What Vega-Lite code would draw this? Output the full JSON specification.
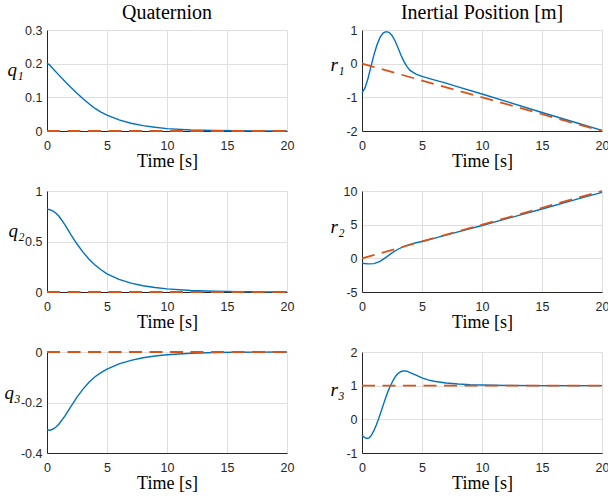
{
  "$schema": "https://vega.github.io/schema/vega-lite/v6.json",
  "padding": {"left": 3, "top": 3, "right": 5, "bottom": 5},
  "background": "white",
  "config": {
    "view": {"stroke": null},
    "style": {"guide-title": {"fontWeight": "normal"}, "group-title": {"fontWeight": "normal"}},
    "axis": {
      "domainColor": "#262626",
      "domainWidth": 1,
      "labelColor": "#262626",
      "labelFont": "Liberation Sans",
      "labelFontSize": 12.5,
      "labelOverlap": false,
      "labelBound": false,
      "tickCount": 12,
      "titleFont": "Liberation Serif",
      "titleFontSize": 18,
      "titleFontWeight": "normal",
      "titleColor": "#000000",
      "gridColor": "#dfdfdf",
      "gridWidth": 1,
      "ticks": false,
      "labelExpr": "replace(format(datum.value, '~g'), '\u2212', '-')"
    },
    "axisX": {"labelPadding": 8, "titlePadding": 1, "labelFlush": false, "titleFontWeight": "normal"},
    "axisY": {"labelPadding": 5, "titleAngle": 0, "titleAlign": "right", "titleBaseline": "alphabetic", "titleFontStyle": "italic", "titleFontSize": 19, "titleFontWeight": "normal"},
    "title": {"font": "Liberation Serif", "fontSize": 20, "fontWeight": "normal", "color": "#000000", "anchor": "middle", "baseline": "alphabetic", "offset": 1}
  },
  "datasets": {
    "d": [
      {"p":"q1","s":"a","t":0,"v":0.202},{"p":"q1","s":"a","t":0.25,"v":0.195},{"p":"q1","s":"a","t":0.5,"v":0.185},{"p":"q1","s":"a","t":1,"v":0.166},{"p":"q1","s":"a","t":1.5,"v":0.147},{"p":"q1","s":"a","t":2,"v":0.129},{"p":"q1","s":"a","t":2.5,"v":0.112},{"p":"q1","s":"a","t":3,"v":0.096},{"p":"q1","s":"a","t":3.5,"v":0.081},{"p":"q1","s":"a","t":4,"v":0.067},{"p":"q1","s":"a","t":4.5,"v":0.056},{"p":"q1","s":"a","t":5,"v":0.047},{"p":"q1","s":"a","t":6,"v":0.033},{"p":"q1","s":"a","t":7,"v":0.023},{"p":"q1","s":"a","t":8,"v":0.016},{"p":"q1","s":"a","t":9,"v":0.011},{"p":"q1","s":"a","t":10,"v":0.007},{"p":"q1","s":"a","t":12,"v":0.003},{"p":"q1","s":"a","t":14,"v":0.0015},{"p":"q1","s":"a","t":16,"v":0.0007},{"p":"q1","s":"a","t":18,"v":0.0003},{"p":"q1","s":"a","t":20,"v":0.0001},
      {"p":"q1","s":"r","t":0,"v":0},{"p":"q1","s":"r","t":20,"v":0},
      {"p":"q2","s":"a","t":0,"v":0.82},{"p":"q2","s":"a","t":0.25,"v":0.815},{"p":"q2","s":"a","t":0.5,"v":0.8},{"p":"q2","s":"a","t":0.75,"v":0.78},{"p":"q2","s":"a","t":1,"v":0.75},{"p":"q2","s":"a","t":1.5,"v":0.665},{"p":"q2","s":"a","t":2,"v":0.565},{"p":"q2","s":"a","t":2.5,"v":0.475},{"p":"q2","s":"a","t":3,"v":0.395},{"p":"q2","s":"a","t":3.5,"v":0.325},{"p":"q2","s":"a","t":4,"v":0.268},{"p":"q2","s":"a","t":4.5,"v":0.22},{"p":"q2","s":"a","t":5,"v":0.18},{"p":"q2","s":"a","t":6,"v":0.125},{"p":"q2","s":"a","t":7,"v":0.088},{"p":"q2","s":"a","t":8,"v":0.062},{"p":"q2","s":"a","t":9,"v":0.044},{"p":"q2","s":"a","t":10,"v":0.031},{"p":"q2","s":"a","t":12,"v":0.015},{"p":"q2","s":"a","t":14,"v":0.007},{"p":"q2","s":"a","t":16,"v":0.003},{"p":"q2","s":"a","t":18,"v":0.0013},{"p":"q2","s":"a","t":20,"v":0.0005},
      {"p":"q2","s":"r","t":0,"v":0},{"p":"q2","s":"r","t":20,"v":0},
      {"p":"q3","s":"a","t":0,"v":-0.308},{"p":"q3","s":"a","t":0.25,"v":-0.31},{"p":"q3","s":"a","t":0.5,"v":-0.305},{"p":"q3","s":"a","t":0.75,"v":-0.297},{"p":"q3","s":"a","t":1,"v":-0.285},{"p":"q3","s":"a","t":1.5,"v":-0.253},{"p":"q3","s":"a","t":2,"v":-0.215},{"p":"q3","s":"a","t":2.5,"v":-0.179},{"p":"q3","s":"a","t":3,"v":-0.147},{"p":"q3","s":"a","t":3.5,"v":-0.12},{"p":"q3","s":"a","t":4,"v":-0.098},{"p":"q3","s":"a","t":4.5,"v":-0.082},{"p":"q3","s":"a","t":5,"v":-0.068},{"p":"q3","s":"a","t":6,"v":-0.047},{"p":"q3","s":"a","t":7,"v":-0.033},{"p":"q3","s":"a","t":8,"v":-0.023},{"p":"q3","s":"a","t":9,"v":-0.016},{"p":"q3","s":"a","t":10,"v":-0.011},{"p":"q3","s":"a","t":12,"v":-0.005},{"p":"q3","s":"a","t":14,"v":-0.002},{"p":"q3","s":"a","t":16,"v":-0.001},{"p":"q3","s":"a","t":20,"v":0},
      {"p":"q3","s":"r","t":0,"v":0},{"p":"q3","s":"r","t":20,"v":0},
      {"p":"r1","s":"a","t":0,"v":-0.87},{"p":"r1","s":"a","t":0.25,"v":-0.72},{"p":"r1","s":"a","t":0.5,"v":-0.44},{"p":"r1","s":"a","t":0.75,"v":-0.08},{"p":"r1","s":"a","t":1,"v":0.27},{"p":"r1","s":"a","t":1.25,"v":0.56},{"p":"r1","s":"a","t":1.5,"v":0.78},{"p":"r1","s":"a","t":1.75,"v":0.91},{"p":"r1","s":"a","t":2,"v":0.95},{"p":"r1","s":"a","t":2.25,"v":0.93},{"p":"r1","s":"a","t":2.5,"v":0.84},{"p":"r1","s":"a","t":2.75,"v":0.68},{"p":"r1","s":"a","t":3,"v":0.47},{"p":"r1","s":"a","t":3.25,"v":0.25},{"p":"r1","s":"a","t":3.5,"v":0.06},{"p":"r1","s":"a","t":3.75,"v":-0.09},{"p":"r1","s":"a","t":4,"v":-0.2},{"p":"r1","s":"a","t":4.5,"v":-0.31},{"p":"r1","s":"a","t":5,"v":-0.38},{"p":"r1","s":"a","t":5.5,"v":-0.43},{"p":"r1","s":"a","t":6,"v":-0.48},{"p":"r1","s":"a","t":7,"v":-0.58},{"p":"r1","s":"a","t":8,"v":-0.69},{"p":"r1","s":"a","t":10,"v":-0.9},{"p":"r1","s":"a","t":12,"v":-1.12},{"p":"r1","s":"a","t":15,"v":-1.45},{"p":"r1","s":"a","t":18,"v":-1.77},{"p":"r1","s":"a","t":20,"v":-1.98},
      {"p":"r1","s":"r","t":0,"v":0},{"p":"r1","s":"r","t":20,"v":-2},
      {"p":"r2","s":"a","t":0,"v":-0.74},{"p":"r2","s":"a","t":0.5,"v":-0.83},{"p":"r2","s":"a","t":1,"v":-0.78},{"p":"r2","s":"a","t":1.5,"v":-0.45},{"p":"r2","s":"a","t":2,"v":0.15},{"p":"r2","s":"a","t":2.5,"v":0.8},{"p":"r2","s":"a","t":3,"v":1.35},{"p":"r2","s":"a","t":3.5,"v":1.78},{"p":"r2","s":"a","t":4,"v":2.08},{"p":"r2","s":"a","t":4.5,"v":2.32},{"p":"r2","s":"a","t":5,"v":2.5},{"p":"r2","s":"a","t":6,"v":2.97},{"p":"r2","s":"a","t":8,"v":3.92},{"p":"r2","s":"a","t":10,"v":4.87},{"p":"r2","s":"a","t":12,"v":5.85},{"p":"r2","s":"a","t":15,"v":7.33},{"p":"r2","s":"a","t":18,"v":8.82},{"p":"r2","s":"a","t":20,"v":9.8},
      {"p":"r2","s":"r","t":0,"v":0},{"p":"r2","s":"r","t":20,"v":10},
      {"p":"r3","s":"a","t":0,"v":-0.47},{"p":"r3","s":"a","t":0.2,"v":-0.54},{"p":"r3","s":"a","t":0.4,"v":-0.57},{"p":"r3","s":"a","t":0.6,"v":-0.55},{"p":"r3","s":"a","t":0.8,"v":-0.46},{"p":"r3","s":"a","t":1,"v":-0.33},{"p":"r3","s":"a","t":1.2,"v":-0.16},{"p":"r3","s":"a","t":1.4,"v":0.03},{"p":"r3","s":"a","t":1.6,"v":0.24},{"p":"r3","s":"a","t":1.8,"v":0.46},{"p":"r3","s":"a","t":2,"v":0.67},{"p":"r3","s":"a","t":2.2,"v":0.86},{"p":"r3","s":"a","t":2.4,"v":1.02},{"p":"r3","s":"a","t":2.6,"v":1.16},{"p":"r3","s":"a","t":2.8,"v":1.28},{"p":"r3","s":"a","t":3,"v":1.36},{"p":"r3","s":"a","t":3.25,"v":1.42},{"p":"r3","s":"a","t":3.5,"v":1.44},{"p":"r3","s":"a","t":3.75,"v":1.43},{"p":"r3","s":"a","t":4,"v":1.39},{"p":"r3","s":"a","t":4.5,"v":1.31},{"p":"r3","s":"a","t":5,"v":1.23},{"p":"r3","s":"a","t":5.5,"v":1.17},{"p":"r3","s":"a","t":6,"v":1.13},{"p":"r3","s":"a","t":7,"v":1.08},{"p":"r3","s":"a","t":8,"v":1.05},{"p":"r3","s":"a","t":9,"v":1.03},{"p":"r3","s":"a","t":10,"v":1.02},{"p":"r3","s":"a","t":12,"v":1.01},{"p":"r3","s":"a","t":15,"v":1.0},{"p":"r3","s":"a","t":20,"v":1.0},
      {"p":"r3","s":"r","t":0,"v":1},{"p":"r3","s":"r","t":20,"v":1}
    ]
  },
  "columns": 2,
  "bounds": "flush",
  "spacing": {"row": 60, "column": 75},
  "concat": [
    {
      "width": 240, "height": 101,
      "title": "Quaternion",
      "layer": [
        {"data": {"name": "d"}, "transform": [{"filter": "datum.p === 'q1' && datum.s === 'a'"}],
         "mark": {"type": "line", "color": "#0072BD", "strokeWidth": 1.4},
         "encoding": {
           "x": {"field": "t", "type": "quantitative", "scale": {"domain": [0, 20], "nice": false}, "axis": {"values": [0, 5, 10, 15, 20], "tickCount": 12, "title": "Time [s]"}},
           "y": {"field": "v", "type": "quantitative", "scale": {"domain": [0, 0.3], "nice": false, "zero": false}, "axis": {"values": [0, 0.1, 0.2, 0.3], "tickCount": 12, "title": "q\u2081", "titleX": -24, "titleY": 45}}
         }},
        {"data": {"name": "d"}, "transform": [{"filter": "datum.p === 'q1' && datum.s === 'r'"}],
         "mark": {"type": "line", "color": "#D95319", "strokeWidth": 1.8, "strokeDash": [13, 7.5]},
         "encoding": {"x": {"field": "t", "type": "quantitative"}, "y": {"field": "v", "type": "quantitative"}}}
      ]
    },
    {
      "width": 240, "height": 101,
      "title": "Inertial Position [m]",
      "layer": [
        {"data": {"name": "d"}, "transform": [{"filter": "datum.p === 'r1' && datum.s === 'a'"}],
         "mark": {"type": "line", "color": "#0072BD", "strokeWidth": 1.4},
         "encoding": {
           "x": {"field": "t", "type": "quantitative", "scale": {"domain": [0, 20], "nice": false}, "axis": {"values": [0, 5, 10, 15, 20], "tickCount": 12, "title": "Time [s]"}},
           "y": {"field": "v", "type": "quantitative", "scale": {"domain": [-2, 1], "nice": false, "zero": false}, "axis": {"values": [-2, -1, 0, 1], "tickCount": 12, "title": "r\u2081", "titleX": -18, "titleY": 40}}
         }},
        {"data": {"name": "d"}, "transform": [{"filter": "datum.p === 'r1' && datum.s === 'r'"}],
         "mark": {"type": "line", "color": "#D95319", "strokeWidth": 1.8, "strokeDash": [13, 7.5]},
         "encoding": {"x": {"field": "t", "type": "quantitative"}, "y": {"field": "v", "type": "quantitative"}}}
      ]
    },
    {
      "width": 240, "height": 101,
      "layer": [
        {"data": {"name": "d"}, "transform": [{"filter": "datum.p === 'q2' && datum.s === 'a'"}],
         "mark": {"type": "line", "color": "#0072BD", "strokeWidth": 1.4},
         "encoding": {
           "x": {"field": "t", "type": "quantitative", "scale": {"domain": [0, 20], "nice": false}, "axis": {"values": [0, 5, 10, 15, 20], "tickCount": 12, "title": "Time [s]"}},
           "y": {"field": "v", "type": "quantitative", "scale": {"domain": [0, 1], "nice": false, "zero": false}, "axis": {"values": [0, 0.5, 1], "tickCount": 12, "title": "q\u2082", "titleX": -23, "titleY": 45}}
         }},
        {"data": {"name": "d"}, "transform": [{"filter": "datum.p === 'q2' && datum.s === 'r'"}],
         "mark": {"type": "line", "color": "#D95319", "strokeWidth": 1.8, "strokeDash": [13, 7.5]},
         "encoding": {"x": {"field": "t", "type": "quantitative"}, "y": {"field": "v", "type": "quantitative"}}}
      ]
    },
    {
      "width": 240, "height": 101,
      "layer": [
        {"data": {"name": "d"}, "transform": [{"filter": "datum.p === 'r2' && datum.s === 'a'"}],
         "mark": {"type": "line", "color": "#0072BD", "strokeWidth": 1.4},
         "encoding": {
           "x": {"field": "t", "type": "quantitative", "scale": {"domain": [0, 20], "nice": false}, "axis": {"values": [0, 5, 10, 15, 20], "tickCount": 12, "title": "Time [s]"}},
           "y": {"field": "v", "type": "quantitative", "scale": {"domain": [-5, 10], "nice": false, "zero": false}, "axis": {"values": [-5, 0, 5, 10], "tickCount": 12, "title": "r\u2082", "titleX": -18, "titleY": 41}}
         }},
        {"data": {"name": "d"}, "transform": [{"filter": "datum.p === 'r2' && datum.s === 'r'"}],
         "mark": {"type": "line", "color": "#D95319", "strokeWidth": 1.8, "strokeDash": [13, 7.5]},
         "encoding": {"x": {"field": "t", "type": "quantitative"}, "y": {"field": "v", "type": "quantitative"}}}
      ]
    },
    {
      "width": 240, "height": 101,
      "layer": [
        {"data": {"name": "d"}, "transform": [{"filter": "datum.p === 'q3' && datum.s === 'a'"}],
         "mark": {"type": "line", "color": "#0072BD", "strokeWidth": 1.4},
         "encoding": {
           "x": {"field": "t", "type": "quantitative", "scale": {"domain": [0, 20], "nice": false}, "axis": {"values": [0, 5, 10, 15, 20], "tickCount": 12, "title": "Time [s]"}},
           "y": {"field": "v", "type": "quantitative", "scale": {"domain": [-0.4, 0], "nice": false, "zero": false}, "axis": {"values": [-0.4, -0.2, 0], "tickCount": 12, "title": "q\u2083", "titleX": -27, "titleY": 46}}
         }},
        {"data": {"name": "d"}, "transform": [{"filter": "datum.p === 'q3' && datum.s === 'r'"}],
         "mark": {"type": "line", "color": "#D95319", "strokeWidth": 1.8, "strokeDash": [13, 7.5]},
         "encoding": {"x": {"field": "t", "type": "quantitative"}, "y": {"field": "v", "type": "quantitative"}}}
      ]
    },
    {
      "width": 240, "height": 101,
      "layer": [
        {"data": {"name": "d"}, "transform": [{"filter": "datum.p === 'r3' && datum.s === 'a'"}],
         "mark": {"type": "line", "color": "#0072BD", "strokeWidth": 1.4},
         "encoding": {
           "x": {"field": "t", "type": "quantitative", "scale": {"domain": [0, 20], "nice": false}, "axis": {"values": [0, 5, 10, 15, 20], "tickCount": 12, "title": "Time [s]"}},
           "y": {"field": "v", "type": "quantitative", "scale": {"domain": [-1, 2], "nice": false, "zero": false}, "axis": {"values": [-1, 0, 1, 2], "tickCount": 12, "title": "r\u2083", "titleX": -18, "titleY": 43}}
         }},
        {"data": {"name": "d"}, "transform": [{"filter": "datum.p === 'r3' && datum.s === 'r'"}],
         "mark": {"type": "line", "color": "#D95319", "strokeWidth": 1.8, "strokeDash": [13, 7.5]},
         "encoding": {"x": {"field": "t", "type": "quantitative"}, "y": {"field": "v", "type": "quantitative"}}}
      ]
    }
  ]
}
